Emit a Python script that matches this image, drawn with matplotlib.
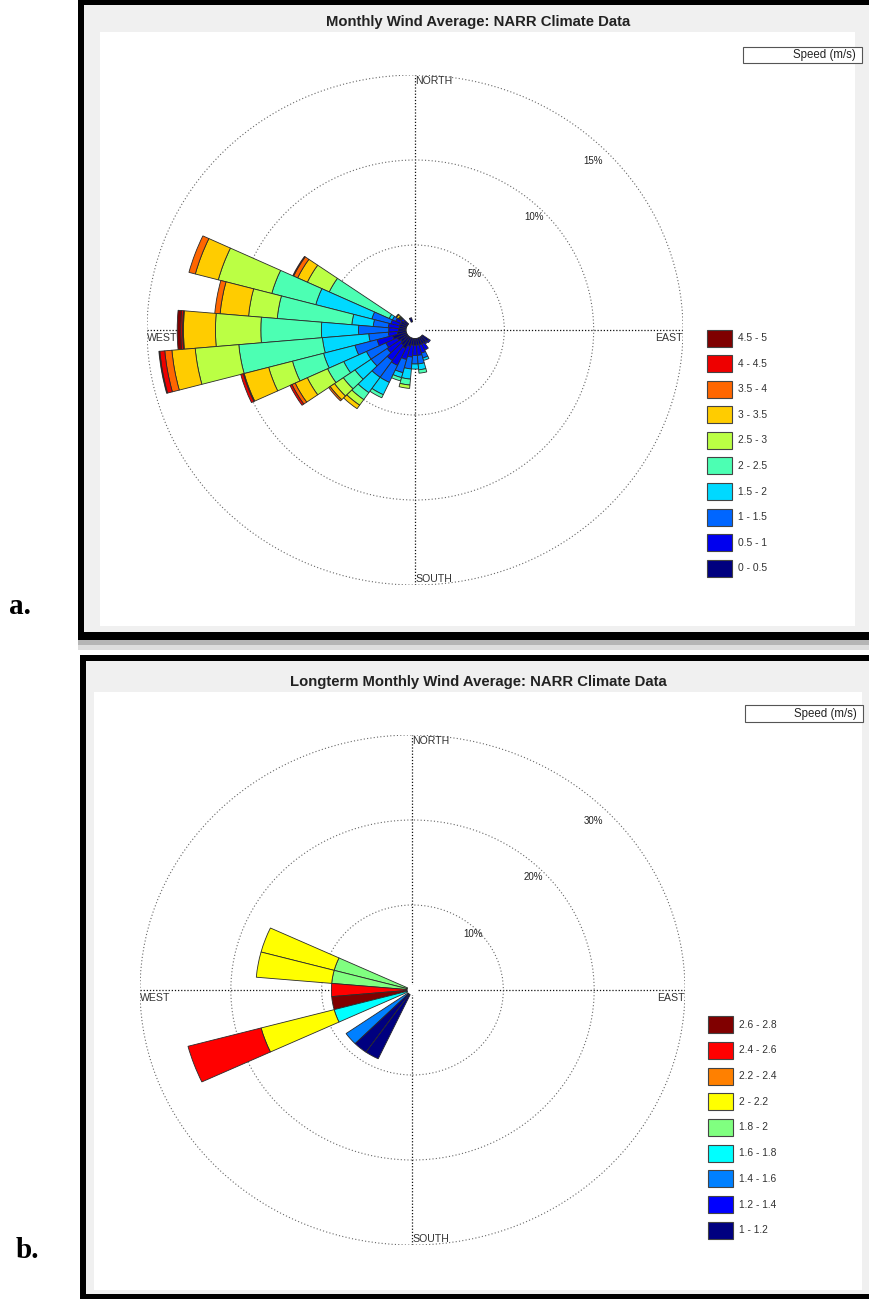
import matplotlib
matplotlib.use("Agg")
import matplotlib.pyplot as plt
from matplotlib.patches import Wedge, Rectangle, Circle

W, H = 870, 1299

# ---------------- panel a: monthly wind average ----------------
A_TITLE = "Monthly Wind Average: NARR Climate Data"
A_BINS = ["0 - 0.5", "0.5 - 1", "1 - 1.5", "1.5 - 2", "2 - 2.5",
          "2.5 - 3", "3 - 3.5", "3.5 - 4", "4 - 4.5", "4.5 - 5"]
A_COLORS = ["#00007f", "#0000ee", "#0066ff", "#00d9ff", "#4cffb3",
            "#bbff44", "#ffcc00", "#ff6600", "#ee0000", "#7f0000"]
# direction the wind comes from (deg, clockwise from north)
A_DIRS = [340, 310, 300, 290, 280, 270, 260, 250, 240, 230,
          220, 210, 200, 190, 180, 170, 160, 150, 140, 130]
# frequency (%) per speed bin, one row per direction
A_FREQ = [
    [0.25],
    [0.30, 0.15, 0.05, 0.05, 0.05, 0.05, 0.13, 0.04],
    [0.40, 0.30, 0.20, 0.20, 3.70, 1.35, 0.60, 0.25, 0.05],
    [0.40, 0.50, 1.10, 3.25, 2.55, 3.10, 1.33, 0.37],
    [0.40, 0.60, 0.85, 1.20, 4.19, 1.61, 1.60, 0.30],
    [0.42, 0.55, 1.69, 2.08, 3.39, 2.54, 1.79, 0.05, 0.10, 0.20],
    [0.50, 0.50, 1.10, 2.60, 4.70, 2.45, 1.31, 0.40, 0.28, 0.05],
    [0.80, 0.90, 1.28, 1.82, 1.80, 1.38, 1.42, 0.05, 0.15],
    [0.60, 0.70, 1.20, 1.40, 1.00, 1.25, 0.75, 0.20, 0.12],
    [0.50, 0.90, 1.10, 1.10, 0.80, 0.60, 0.30, 0.10],
    [0.60, 1.10, 1.20, 1.10, 0.50, 0.40, 0.25],
    [0.70, 1.10, 1.10, 0.80, 0.20],
    [0.50, 0.80, 0.80, 0.30, 0.20],
    [0.40, 0.70, 0.70, 0.60, 0.35, 0.20],
    [0.40, 0.60, 0.50, 0.30],
    [0.40, 0.60, 0.50, 0.35, 0.20],
    [0.40, 0.50, 0.30, 0.15],
    [0.40, 0.40],
    [0.40, 0.10],
    [0.45, 0.10],
]
A_RINGS = [5, 10, 15]

# ---------------- panel b: longterm monthly wind average ----------------
B_TITLE = "Longterm Monthly Wind Average: NARR Climate Data"
B_BINS = ["1 - 1.2", "1.2 - 1.4", "1.4 - 1.6", "1.6 - 1.8", "1.8 - 2",
          "2 - 2.2", "2.2 - 2.4", "2.4 - 2.6", "2.6 - 2.8"]
B_COLORS = ["#000080", "#0000ff", "#0080ff", "#00ffff", "#80ff80",
            "#ffff00", "#ff8000", "#ff0000", "#800000"]
B_DIRS = [290, 280, 270, 260, 250, 230, 220, 210]
B_FREQ = [
    [0, 0, 0, 0, 8.33, 8.33],
    [0, 0, 0, 0, 8.33, 8.33],
    [0, 0, 0, 0, 0, 0, 0, 8.33],
    [0, 0, 0, 0, 0, 0, 0, 0, 8.33],
    [0, 0, 0, 8.33, 0, 8.33, 0, 8.33],
    [0, 0, 8.33],
    [8.33],
    [8.33],
]
B_RINGS = [10, 20, 30]

FONT = "Liberation Sans"
plt.rcParams["font.family"] = [FONT, "DejaVu Sans"]


def px_rect(x0, y0, x1, y1):
    return (x0 / W, 1 - y1 / H, (x1 - x0) / W, (y1 - y0) / H)


def fig_rect(fig, x0, y0, x1, y1, zorder=-5, **kw):
    l, b, w, h = px_rect(x0, y0, x1, y1)
    fig.patches.append(Rectangle((l, b), w, h, transform=fig.transFigure,
                                 figure=fig, zorder=zorder, **kw))


def draw_rose(ax, dirs, freq, colors, rings, hole):
    rmax = rings[-1]
    ax.set_xlim(-rmax, rmax)
    ax.set_ylim(-rmax, rmax)
    ax.set_aspect("auto")
    ax.axis("off")

    dot = (0, (1, 1.5))
    ax.plot([0, 0], [-rmax, rmax], color="#111111", lw=0.9, ls=dot, zorder=1)
    ax.plot([-rmax, rmax], [0, 0], color="#111111", lw=0.9, ls=dot, zorder=1)
    for r in rings:
        ax.add_patch(Circle((0, 0), r, fill=False, ec="#666666", lw=0.8,
                            ls=(0, (1, 2)), zorder=1))
        ax.text(0.707 * r * 0.94, 0.707 * r * 0.94, f"{r}%", fontsize=7,
                color="#222222", ha="center", va="center", zorder=2)
    ax.add_patch(Circle((0, 0), hole, fc="white", ec="none", zorder=2))

    for d, row in zip(dirs, freq):
        th = 90 - d
        r0 = hole
        for f, c in zip(row, colors):
            if f <= 0:
                continue
            ax.add_patch(Wedge((0, 0), r0 + f, th - 5, th + 5, width=f,
                               fc=c, ec="#2a2a2a", lw=0.6, zorder=3))
            r0 += f

    lab = dict(fontsize=7.6, color="#333333", zorder=4)
    ax.text(0, rmax * 0.995, "NORTH", ha="left", va="top", **lab)
    ax.text(0, -rmax * 0.995, "SOUTH", ha="left", va="bottom", **lab)
    ax.text(-rmax, -rmax * 0.01, "WEST", ha="left", va="top", **lab)
    ax.text(rmax, -rmax * 0.01, "EAST", ha="right", va="top", **lab)


def draw_legend(fig, bins, colors, x0, yc0, step, box, tx, ty):
    # "Speed (m/s)" box
    fig_rect(fig, *box, zorder=2, fc="white", ec="#555555", lw=0.8)
    fig.text(tx / W, 1 - ty / H, "Speed (m/s)", fontsize=8.3, ha="right",
             va="center", color="#222222")
    for i, (lab, c) in enumerate(zip(bins[::-1], colors[::-1])):
        yc = yc0 + i * step
        fig_rect(fig, x0, yc - 8.5, x0 + 25, yc + 8.5, zorder=2, fc=c,
                 ec="#444444", lw=0.8)
        fig.text((x0 + 31) / W, 1 - yc / H, lab, fontsize=7.4, ha="left",
                 va="center", color="#333333")


fig = plt.figure(figsize=(W / 100, H / 100), dpi=100)

# panel frames
fig_rect(fig, 78, 0, 870, 640, fc="black", ec="none")
fig_rect(fig, 84, 5, 870, 632, fc="#f0f0f0", ec="none")
fig_rect(fig, 100, 32, 855, 626, fc="white", ec="none")
fig_rect(fig, 78, 640, 870, 645, fc="#b5b5b5", ec="none")
fig_rect(fig, 78, 645, 870, 650, fc="#dddddd", ec="none")

fig_rect(fig, 80, 655, 870, 1299, fc="black", ec="none")
fig_rect(fig, 86, 661, 870, 1294, fc="#f0f0f0", ec="none")
fig_rect(fig, 94, 692, 862, 1290, fc="white", ec="none")

fig.text(478 / W, 1 - 22 / H, A_TITLE, fontsize=10.7, fontweight="bold",
         ha="center", va="center", color="#222222")
fig.text(478 / W, 1 - 682 / H, B_TITLE, fontsize=10.7, fontweight="bold",
         ha="center", va="center", color="#222222")

ax_a = fig.add_axes(px_rect(147, 75, 683, 585))
draw_rose(ax_a, A_DIRS, A_FREQ, A_COLORS, A_RINGS, hole=0.5)

ax_b = fig.add_axes(px_rect(140, 735, 685, 1245))
draw_rose(ax_b, B_DIRS, B_FREQ, B_COLORS, B_RINGS, hole=0.6)

draw_legend(fig, A_BINS, A_COLORS, 707, 338, 25.6, (743, 47, 862, 63), 856, 55)
draw_legend(fig, B_BINS, B_COLORS, 708, 1024.7, 25.7, (745, 705, 863, 722), 857, 713.5)

serif = dict(fontsize=21, fontweight="bold", family="Liberation Serif",
             ha="left", va="center")
fig.text(9 / W, 1 - 606 / H, "a.", **serif)
fig.text(16 / W, 1 - 1250 / H, "b.", **serif)

fig.savefig("out.png", dpi=100)
plt.close(fig)
